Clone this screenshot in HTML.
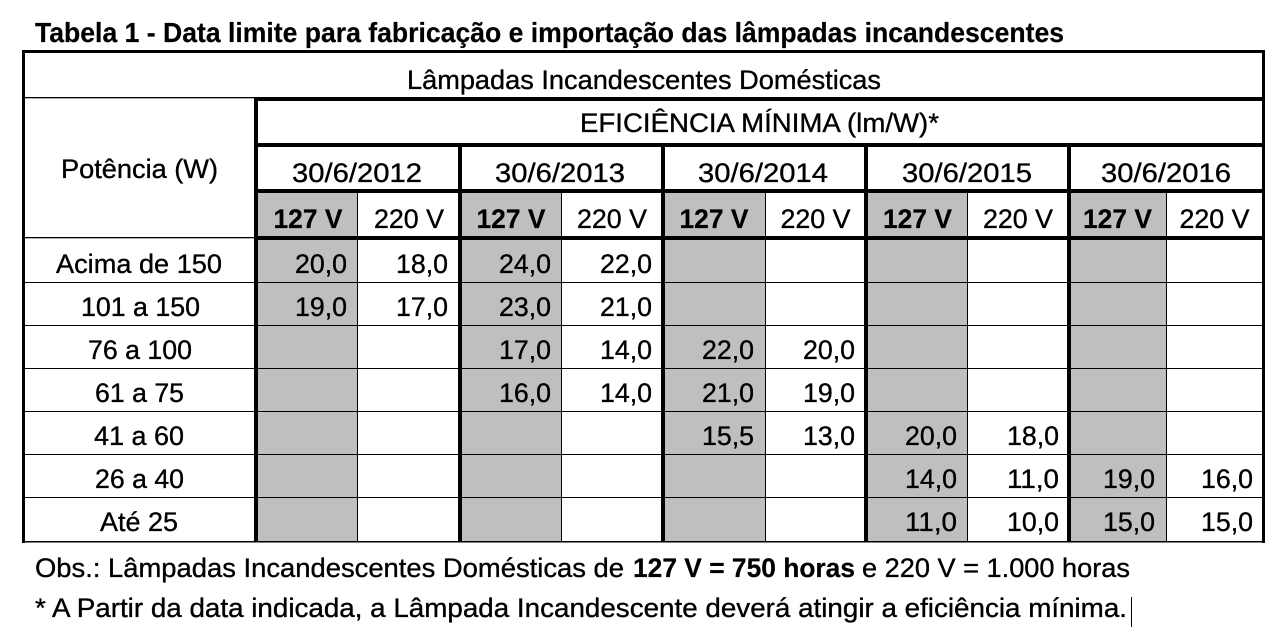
<!DOCTYPE html>
<html>
<head>
<meta charset="utf-8">
<style>
html,body{margin:0;padding:0;background:#fff;width:1276px;height:642px;overflow:hidden}
svg{display:block}
text{font-family:"Liberation Sans",Arial,sans-serif;font-size:26.5px;fill:#000;stroke:#000;stroke-width:0.35px}
.b{font-weight:bold;stroke-width:0.2px}
</style>
</head>
<body>
<svg width="1276" height="642" viewBox="0 0 1276 642" xmlns="http://www.w3.org/2000/svg">
<rect x="0" y="0" width="1276" height="642" fill="#fff"/>

<!-- gray 127 V columns -->
<g fill="#bfbfbf">
<rect x="258" y="193" width="99" height="348"/>
<rect x="462" y="193" width="99" height="348"/>
<rect x="665" y="193" width="100" height="348"/>
<rect x="868" y="193" width="99" height="348"/>
<rect x="1071" y="193" width="95" height="348"/>
</g>

<!-- lines -->
<g fill="#000">
<rect x="22" y="50" width="1243" height="3"/>
<rect x="22" y="50" width="3" height="493"/>
<rect x="1262" y="50" width="3" height="493"/>
<rect x="22" y="541" width="1243" height="1.5"/>

<rect x="25" y="97" width="229" height="1.3"/>
<rect x="254" y="97" width="1008" height="4"/>
<rect x="254" y="97" width="4" height="445"/>
<rect x="254" y="143" width="1008" height="4"/>
<rect x="254" y="189" width="1008" height="4"/>
<rect x="254" y="236" width="1008" height="4"/>
<rect x="25" y="237" width="229" height="1.3"/>

<rect x="458" y="143" width="4" height="399"/>
<rect x="661" y="143" width="4" height="399"/>
<rect x="864" y="143" width="4" height="399"/>
<rect x="1067" y="143" width="4" height="399"/>

<rect x="357" y="193" width="1" height="349"/>
<rect x="561" y="193" width="1" height="349"/>
<rect x="765" y="193" width="1" height="349"/>
<rect x="967" y="193" width="1" height="349"/>
<rect x="1166" y="193" width="1" height="349"/>

<rect x="25" y="282" width="1237" height="1"/>
<rect x="25" y="325" width="1237" height="1"/>
<rect x="25" y="368" width="1237" height="1"/>
<rect x="25" y="411" width="1237" height="1"/>
<rect x="25" y="454" width="1237" height="1"/>
<rect x="25" y="497" width="1237" height="1"/>

<rect x="1131" y="597" width="1" height="30"/>
</g>

<!-- title -->
<text class="b" x="35" y="42" style="font-size:28px" textLength="1029" lengthAdjust="spacingAndGlyphs">Tabela 1 - Data limite para fabricação e importação das lâmpadas incandescentes</text>

<!-- headers -->
<text x="407" y="89" textLength="474" lengthAdjust="spacingAndGlyphs">Lâmpadas Incandescentes Domésticas</text>
<text x="580" y="132" textLength="359" lengthAdjust="spacingAndGlyphs">EFICIÊNCIA MÍNIMA (lm/W)*</text>
<text x="61" y="178" textLength="157" lengthAdjust="spacingAndGlyphs">Potência (W)</text>

<text x="292" y="182" textLength="130" lengthAdjust="spacingAndGlyphs">30/6/2012</text>
<text x="495" y="182" textLength="130" lengthAdjust="spacingAndGlyphs">30/6/2013</text>
<text x="698" y="182" textLength="130" lengthAdjust="spacingAndGlyphs">30/6/2014</text>
<text x="902" y="182" textLength="130" lengthAdjust="spacingAndGlyphs">30/6/2015</text>
<text x="1101" y="182" textLength="130" lengthAdjust="spacingAndGlyphs">30/6/2016</text>

<text class="b" x="273.5" y="228" textLength="69" lengthAdjust="spacingAndGlyphs">127 V</text>
<text class="b" x="476.5" y="228" textLength="69" lengthAdjust="spacingAndGlyphs">127 V</text>
<text class="b" x="679.5" y="228" textLength="69" lengthAdjust="spacingAndGlyphs">127 V</text>
<text class="b" x="883" y="228" textLength="69" lengthAdjust="spacingAndGlyphs">127 V</text>
<text class="b" x="1083" y="228" textLength="69" lengthAdjust="spacingAndGlyphs">127 V</text>

<text x="374" y="228" textLength="70" lengthAdjust="spacingAndGlyphs">220 V</text>
<text x="577" y="228" textLength="70" lengthAdjust="spacingAndGlyphs">220 V</text>
<text x="780.5" y="228" textLength="70" lengthAdjust="spacingAndGlyphs">220 V</text>
<text x="983" y="228" textLength="70" lengthAdjust="spacingAndGlyphs">220 V</text>
<text x="1179.5" y="228" textLength="70" lengthAdjust="spacingAndGlyphs">220 V</text>

<!-- row labels -->
<text x="56" y="273" textLength="166" lengthAdjust="spacingAndGlyphs">Acima de 150</text>
<text x="81" y="316" textLength="119" lengthAdjust="spacingAndGlyphs">101 a 150</text>
<text x="88" y="359" textLength="104" lengthAdjust="spacingAndGlyphs">76 a 100</text>
<text x="95" y="402" textLength="89" lengthAdjust="spacingAndGlyphs">61 a 75</text>
<text x="94" y="445" textLength="90" lengthAdjust="spacingAndGlyphs">41 a 60</text>
<text x="95" y="488" textLength="89" lengthAdjust="spacingAndGlyphs">26 a 40</text>
<text x="100" y="531" textLength="78" lengthAdjust="spacingAndGlyphs">Até 25</text>

<!-- data -->
<g>
<text x="295" y="273" textLength="52" lengthAdjust="spacingAndGlyphs">20,0</text>
<text x="396" y="273" textLength="52" lengthAdjust="spacingAndGlyphs">18,0</text>
<text x="499" y="273" textLength="52" lengthAdjust="spacingAndGlyphs">24,0</text>
<text x="600" y="273" textLength="52" lengthAdjust="spacingAndGlyphs">22,0</text>

<text x="295" y="316" textLength="52" lengthAdjust="spacingAndGlyphs">19,0</text>
<text x="396" y="316" textLength="52" lengthAdjust="spacingAndGlyphs">17,0</text>
<text x="499" y="316" textLength="52" lengthAdjust="spacingAndGlyphs">23,0</text>
<text x="600" y="316" textLength="52" lengthAdjust="spacingAndGlyphs">21,0</text>

<text x="499" y="359" textLength="52" lengthAdjust="spacingAndGlyphs">17,0</text>
<text x="600" y="359" textLength="52" lengthAdjust="spacingAndGlyphs">14,0</text>
<text x="702" y="359" textLength="52" lengthAdjust="spacingAndGlyphs">22,0</text>
<text x="803" y="359" textLength="52" lengthAdjust="spacingAndGlyphs">20,0</text>

<text x="499" y="402" textLength="52" lengthAdjust="spacingAndGlyphs">16,0</text>
<text x="600" y="402" textLength="52" lengthAdjust="spacingAndGlyphs">14,0</text>
<text x="702" y="402" textLength="52" lengthAdjust="spacingAndGlyphs">21,0</text>
<text x="803" y="402" textLength="52" lengthAdjust="spacingAndGlyphs">19,0</text>

<text x="702" y="445" textLength="52" lengthAdjust="spacingAndGlyphs">15,5</text>
<text x="803" y="445" textLength="52" lengthAdjust="spacingAndGlyphs">13,0</text>
<text x="905" y="445" textLength="52" lengthAdjust="spacingAndGlyphs">20,0</text>
<text x="1007" y="445" textLength="52" lengthAdjust="spacingAndGlyphs">18,0</text>

<text x="905" y="488" textLength="52" lengthAdjust="spacingAndGlyphs">14,0</text>
<text x="1007" y="488" textLength="52" lengthAdjust="spacingAndGlyphs">11,0</text>
<text x="1103" y="488" textLength="52" lengthAdjust="spacingAndGlyphs">19,0</text>
<text x="1201" y="488" textLength="52" lengthAdjust="spacingAndGlyphs">16,0</text>

<text x="905" y="531" textLength="52" lengthAdjust="spacingAndGlyphs">11,0</text>
<text x="1007" y="531" textLength="52" lengthAdjust="spacingAndGlyphs">10,0</text>
<text x="1103" y="531" textLength="52" lengthAdjust="spacingAndGlyphs">15,0</text>
<text x="1201" y="531" textLength="52" lengthAdjust="spacingAndGlyphs">15,0</text>
</g>

<!-- notes -->
<text x="35" y="577" textLength="589" lengthAdjust="spacingAndGlyphs">Obs.:  Lâmpadas Incandescentes Domésticas de</text>
<text class="b" x="633" y="577" textLength="222" lengthAdjust="spacingAndGlyphs">127 V = 750 horas</text>
<text x="862" y="577" textLength="268" lengthAdjust="spacingAndGlyphs">e 220 V = 1.000 horas</text>
<text x="35" y="617" textLength="1092" lengthAdjust="spacingAndGlyphs">* A Partir da data indicada, a Lâmpada Incandescente deverá atingir a eficiência mínima.</text>
</svg>
</body>
</html>
